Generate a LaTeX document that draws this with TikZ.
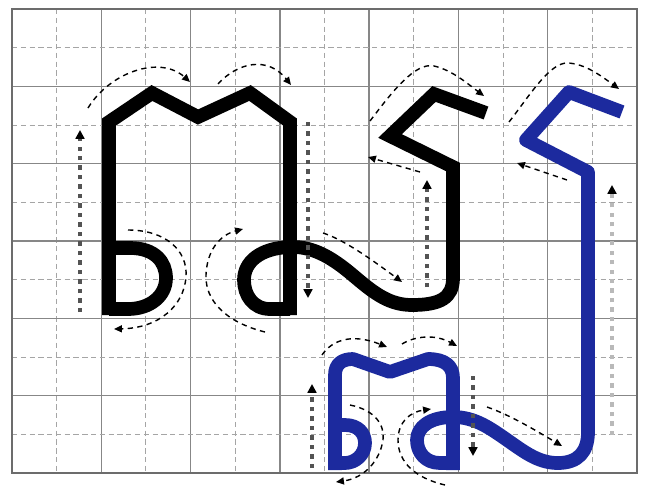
\documentclass[tikz,border=0pt]{standalone}
\usepackage{tikz}
\usetikzlibrary{arrows.meta}
\usepackage{xcolor}
\definecolor{inkblue}{RGB}{28,42,158}
\definecolor{gridgray}{RGB}{135,135,135}

\begin{document}
\begin{tikzpicture}[x=0.02cm,y=-0.02cm,
  gridmajor/.style={gridgray,line width=0.75pt},
  gridminor/.style={gridgray!75,line width=0.5pt,dash pattern=on 3pt off 2pt},
  gridborder/.style={gridgray!80!black,line width=1pt},
  glyph/.style={black,line width=7.8pt,line join=miter},
  blueglyph/.style={inkblue,line width=7.8pt,line join=round},
  guide/.style={black,line width=0.8pt,dash pattern=on 3pt off 2.5pt,
    -{Triangle[length=4.5pt,width=4pt]}},
  dotguide/.style={gray!65!black,line width=2.4pt,dash pattern=on 2.4pt off 3pt,
    -{Triangle[length=5pt,width=5pt,black]}}]
  \useasboundingbox (0,0) rectangle (645,487);
  \fill[white] (0,0) rectangle (645,487);
  % grid
  \foreach \i in {1,3,...,13}
    \draw[gridminor] ({12+\i*44.64},9) -- ({12+\i*44.64},473);
  \foreach \i in {2,4,...,12}
    \draw[gridmajor] ({12+\i*44.64},9) -- ({12+\i*44.64},473);
  \foreach \j in {1,3,...,11}
    \draw[gridminor] (12,{9+\j*38.67}) -- (637,{9+\j*38.67});
  \foreach \j in {2,4,...,10}
    \draw[gridmajor] (12,{9+\j*38.67}) -- (637,{9+\j*38.67});
  \draw[gridborder] (12,9) rectangle (637,473);
  % black letter, left part
  \draw[glyph] (109,315) -- (109,122) -- (152,93) -- (198,117) -- (250,93)
    -- (290,122) -- (290,315);
  \draw[glyph] (109,248) -- (130,248) .. controls (155,248) and (166,262) .. (166,278)
    .. controls (166,296) and (150,309) .. (128,309) -- (109,309);
  % black letter, bowl and right part
  \draw[glyph] (290,309) -- (270,309) .. controls (253,309) and (244,295) .. (244,280)
    .. controls (244,262) and (260,248) .. (290,247)
    .. controls (315,246) and (335,260) .. (355,277)
    .. controls (375,294) and (390,305) .. (412,305)
    .. controls (440,305) and (453,298) .. (453,278)
    -- (453,167) -- (390,136) -- (434,94) -- (486,113);
  % blue letter, lower part
  \draw[blueglyph] (335,470) -- (335,375) .. controls (335,364) and (342,359) .. (353,359)
    -- (390,372) -- (428,359) .. controls (445,359) and (453,366) .. (453,378)
    -- (453,470);
  \draw[blueglyph] (335,425) -- (345,425) .. controls (358,425) and (365,433) .. (365,443)
    .. controls (365,455) and (355,463) .. (345,463) -- (335,463);
  % blue letter, bowl and tall stroke
  \draw[blueglyph] (453,463) -- (440,463) .. controls (425,463) and (417,452) .. (417,440)
    .. controls (417,427) and (430,417) .. (453,417)
    .. controls (475,417) and (490,428) .. (510,442)
    .. controls (527,454) and (540,463) .. (558,463)
    .. controls (578,463) and (588,452) .. (588,432)
    -- (588,172) -- (526,140) -- (569,92) -- (622,112);
  % guides, black letter
  \draw[dotguide] (80,312) -- (80,130);
  \draw[guide] (88,108) .. controls (110,72) and (160,55) .. (190,82);
  \draw[guide] (218,84) .. controls (238,62) and (268,56) .. (291,85);
  \draw[dotguide] (308,122) -- (308,298);
  \draw[guide] (128,230) .. controls (165,230) and (188,250) .. (186,277)
    .. controls (184,305) and (160,328) .. (114,329);
  \draw[guide] (265,332) .. controls (225,322) and (205,300) .. (206,275)
    .. controls (207,250) and (220,235) .. (243,229);
  \draw[guide] (323,233) .. controls (345,240) and (375,262) .. (402,282);
  \draw[guide] (370,121) .. controls (392,92) and (415,62) .. (434,66)
    .. controls (452,70) and (468,84) .. (484,96);
  \draw[dotguide] (427,287) -- (427,180);
  \draw[guide] (420,172) -- (368,157);
  % guides, blue letter
  \draw[guide] (509,122) .. controls (530,95) and (550,62) .. (568,63)
    .. controls (585,64) and (600,75) .. (619,89);
  \draw[guide] (567,180) -- (517,163);
  \draw[dotguide,gray!55] (612,435) -- (612,185);
  \draw[dotguide] (312,468) -- (312,384);
  \draw[guide] (322,355) .. controls (332,340) and (352,333) .. (387,347);
  \draw[guide] (402,344) .. controls (415,336) and (435,334) .. (457,346);
  \draw[dotguide,line width=1.8pt] (473,376) -- (473,456);
  \draw[guide] (487,407) .. controls (510,415) and (535,430) .. (562,446);
  \draw[guide] (350,405) .. controls (375,410) and (385,425) .. (383,440)
    .. controls (380,460) and (365,478) .. (336,482);
  \draw[guide] (445,485) .. controls (415,478) and (398,462) .. (398,440)
    .. controls (398,422) and (410,412) .. (431,409);
\end{tikzpicture}
\end{document}
